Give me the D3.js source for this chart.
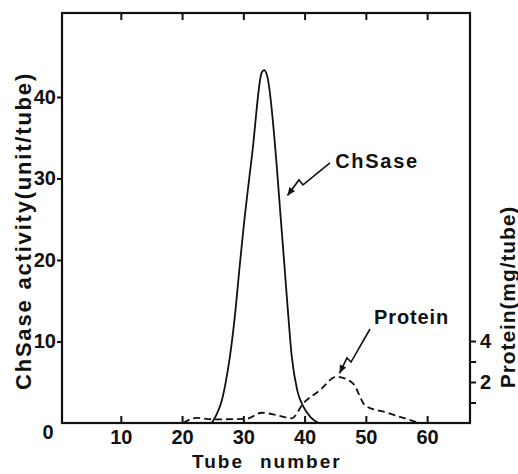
<!DOCTYPE html>
<html>
<head>
<meta charset="utf-8">
<script src="https://cdn.jsdelivr.net/npm/d3@7"></script>
<style>
  body { margin: 0; background: #fff; }
  text { font-family: "Liberation Sans", Arial, sans-serif; font-weight: bold; fill: #111; }
</style>
</head>
<body>
<div id="chart"></div>
<script>
// ChSase activity (unit/tube), solid line
const chsaseTubes  = [24.85, 25.6, 26.5, 27.1, 27.8, 28.6, 29.45, 30.0, 31.5, 33.0, 33.4, 33.85, 36.3, 37.2, 37.9, 38.8, 39.8, 41.0, 42.3];
const chsaseValues = [0, 1.0, 2.8, 4.9, 8.1, 13.0, 19.6, 23.7, 33.4, 43.0, 43.3, 42.7, 23.3, 14.5, 8.2, 4.0, 2.0, 0.7, 0];

// Protein (mg/tube), dashed line
const proteinTubes  = [20.2, 22.3, 25.0, 30.5, 33.0, 35.5, 37.9, 39.8, 42.5, 45.2, 47.9, 49.9, 53.5, 58.4];
const proteinValues = [0, 0.25, 0.18, 0.2, 0.5, 0.38, 0.23, 0.96, 1.6, 2.26, 1.93, 0.85, 0.5, 0.03];

const xTicks = [10, 20, 30, 40, 50, 60];
const yTicks = [10, 20, 30, 40];
const proteinTicks = [1, 2, 3, 4];
const proteinLabels = [2, 4];

const width = 518, height = 474;

const svg = d3.select("#chart").append("svg")
    .attr("width", width)
    .attr("height", height);

const x = d3.scaleLinear().domain([0.4, 67]).range([62, 470]);
const y = d3.scaleLinear().domain([0, 50.3]).range([423, 13]);
const yP = d3.scaleLinear().domain([0, 20]).range([423, 13]);

// frame
svg.append("rect")
    .attr("x", x(0.4)).attr("y", y(50.3))
    .attr("width", x(67) - x(0.4)).attr("height", y(0) - y(50.3))
    .attr("fill", "none").attr("stroke", "#111").attr("stroke-width", 2.2);

// bottom axis (ticks inward)
const bottomAxis = svg.append("g")
    .attr("transform", `translate(0,${y(0)})`)
    .call(d3.axisBottom(x).tickValues(xTicks).tickSizeInner(-7).tickSizeOuter(0).tickPadding(7));
// top ticks (inward)
const topAxis = svg.append("g")
    .attr("transform", `translate(0,${y(50.3)})`)
    .call(d3.axisTop(x).tickValues(xTicks).tickSizeInner(-7).tickSizeOuter(0).tickFormat(""));
// left axis (ticks outward)
const leftAxis = svg.append("g")
    .attr("transform", `translate(${x(0.4)},0)`)
    .call(d3.axisLeft(y).tickValues(yTicks).tickSizeInner(5).tickSizeOuter(0).tickPadding(1));
// right axis, protein
const rightAxis = svg.append("g")
    .attr("transform", `translate(${x(67)},0)`)
    .call(d3.axisRight(yP).tickValues(proteinTicks).tickSizeInner(6).tickSizeOuter(0).tickPadding(4)
        .tickFormat(d => proteinLabels.includes(d) ? d : ""));

[bottomAxis, topAxis, leftAxis, rightAxis].forEach(g => {
    g.select(".domain").remove();
    g.selectAll(".tick line").attr("stroke", "#111").attr("stroke-width", 2);
    g.selectAll(".tick text")
        .attr("font-family", "Liberation Sans, Arial, sans-serif")
        .attr("font-weight", "bold")
        .attr("font-size", 20)
        .attr("fill", "#111");
});

// origin label
svg.append("text")
    .attr("x", 48).attr("y", 439)
    .attr("text-anchor", "middle")
    .attr("font-size", 20)
    .text("0");

// curves
const chsase = chsaseTubes.map((t, i) => [t, chsaseValues[i]]);
const protein = proteinTubes.map((t, i) => [t, proteinValues[i]]);

svg.append("path")
    .datum(chsase)
    .attr("fill", "none")
    .attr("stroke", "#111")
    .attr("stroke-width", 1.8)
    .attr("d", d3.line().x(d => x(d[0])).y(d => y(d[1])).curve(d3.curveMonotoneX));

svg.append("path")
    .datum(protein)
    .attr("fill", "none")
    .attr("stroke", "#111")
    .attr("stroke-width", 1.8)
    .attr("stroke-dasharray", "7,4")
    .attr("d", d3.line().x(d => x(d[0])).y(d => yP(d[1])).curve(d3.curveMonotoneX));

// annotations: zigzag arrows, in (tube, activity) units
function arrow(pts) {
    const p = pts.map(d => [x(d[0]), y(d[1])]);
    svg.append("path")
        .attr("d", d3.line()(p))
        .attr("fill", "none").attr("stroke", "#111").attr("stroke-width", 1.6);
    const a = p[p.length - 2], b = p[p.length - 1];
    const ang = Math.atan2(b[1] - a[1], b[0] - a[0]);
    const len = 8, w = 3.5;
    const bx = b[0] - len * Math.cos(ang), by = b[1] - len * Math.sin(ang);
    const head = [
        b,
        [bx + w * Math.sin(ang), by - w * Math.cos(ang)],
        [bx - w * Math.sin(ang), by + w * Math.cos(ang)]
    ];
    svg.append("path")
        .attr("d", d3.line()(head) + "Z")
        .attr("fill", "#111");
}

arrow([[44.15, 31.9], [39.74, 29.2], [39.09, 29.82], [37.2, 27.9]]);
arrow([[50.68, 11.53], [47.58, 7.48], [46.92, 7.98], [45.7, 6.1]]);

svg.append("text")
    .attr("x", x(45.0)).attr("y", y(31.3))
    .attr("font-size", 20).attr("letter-spacing", 1.7)
    .text("ChSase");

svg.append("text")
    .attr("x", x(51.33)).attr("y", y(12.1))
    .attr("font-size", 20).attr("letter-spacing", 0.9)
    .text("Protein");

// axis titles
const xt = svg.append("text")
    .attr("x", 192).attr("y", 468)
    .attr("font-size", 19).attr("letter-spacing", 2);
xt.append("tspan").text("Tube");
xt.append("tspan").attr("dx", 16).text("number");

const yt = svg.append("text")
    .attr("transform", "translate(31,231) rotate(-90)")
    .attr("text-anchor", "middle")
    .attr("font-size", 22).attr("letter-spacing", 1.8);
yt.append("tspan").text("ChSase");
yt.append("tspan").attr("dx", 9).text("activity(unit/tube)");

svg.append("text")
    .attr("transform", "translate(515,297) rotate(-90)")
    .attr("text-anchor", "middle")
    .attr("font-size", 21).attr("letter-spacing", 0.9)
    .text("Protein(mg/tube)");
</script>
</body>
</html>
